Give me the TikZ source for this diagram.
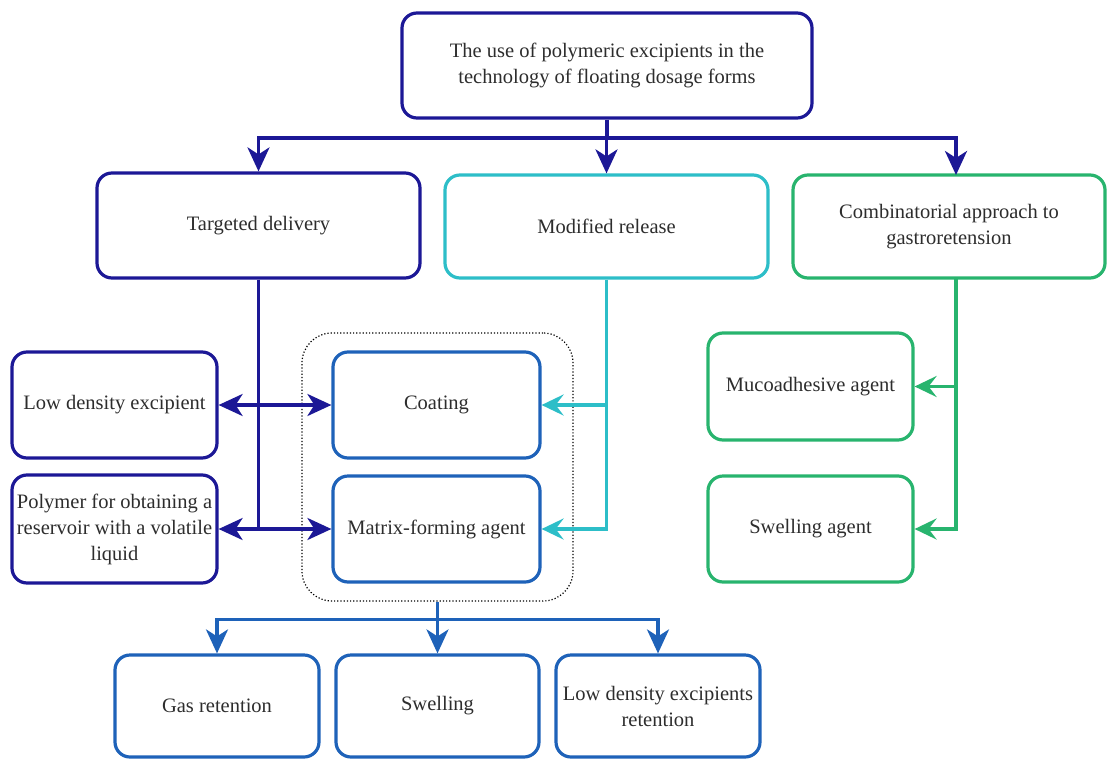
\documentclass[tikz,border=0pt]{standalone}
\usepackage{fontspec}
\setmainfont{Liberation Serif}
\usetikzlibrary{arrows.meta,calc}
\definecolor{navyb}{RGB}{28,24,150}
\definecolor{cyanb}{RGB}{45,190,200}
\definecolor{greenb}{RGB}{40,180,110}
\definecolor{midb}{RGB}{30,98,185}
\definecolor{txt}{RGB}{45,45,45}
\tikzset{
  box/.style={draw, rounded corners=15pt, line width=3.2pt, fill=white, inner sep=0pt,
    align=center, text=txt, font=\fontsize{20.5}{26}\selectfont},
  navybox/.style={box, draw=navyb},
  cyanbox/.style={box, draw=cyanb},
  greenbox/.style={box, draw=greenb},
  midbox/.style={box, draw=midb},
  arr/.style={line width=3.4pt, -{Stealth[length=24pt,width=22pt,inset=7pt]}},
  darr/.style={line width=3.4pt, {Stealth[length=24pt,width=22pt,inset=7pt]}-{Stealth[length=24pt,width=22pt,inset=7pt]}},
  carr/.style={line width=3.2pt, -{Stealth[length=22pt,width=21pt,inset=8pt]}},
  trunk/.style={line width=3.4pt},
}
\begin{document}
\begin{tikzpicture}[x=1pt,y=-1pt]
\useasboundingbox[fill=white] (0,0) rectangle (1107,760);

% dotted group
\node[draw=black, dotted, line width=1.2pt, rounded corners=30pt, minimum width=271pt, minimum height=268pt, inner sep=0pt] (grp) at (437.5,467) {};

% nodes
\node[navybox, minimum width=410pt, minimum height=105pt] (top) at (607,65.5)
  {The use of polymeric excipients in the\\technology of floating dosage forms};
\node[navybox, minimum width=323pt, minimum height=105pt] (targ) at (258.5,225.5) {Targeted delivery};
\node[cyanbox, minimum width=323pt, minimum height=103pt] (mod) at (606.5,226.5) {Modified release};
\node[greenbox, minimum width=312pt, minimum height=103pt] (comb) at (949,226.5)
  {Combinatorial approach to\\gastroretension};

\node[navybox, minimum width=205pt, minimum height=106pt] (low) at (114.5,405) {Low density excipient};
\node[navybox, minimum width=205pt, minimum height=108pt] (poly) at (114.5,529)
  {Polymer for obtaining a\\reservoir with a volatile\\liquid};

\node[midbox, minimum width=207pt, minimum height=106pt] (coat) at (436.5,405) {Coating};
\node[midbox, minimum width=207pt, minimum height=106pt] (matr) at (436.5,529) {Matrix-forming agent};

\node[greenbox, minimum width=205pt, minimum height=107pt] (muco) at (810.5,386.5) {Mucoadhesive agent};
\node[greenbox, minimum width=205pt, minimum height=106pt] (swag) at (810.5,529) {Swelling agent};

\node[midbox, minimum width=204pt, minimum height=102pt] (gas) at (217,706) {Gas retention};
\node[midbox, minimum width=203pt, minimum height=102pt] (swel) at (437.5,706) {Swelling};
\node[midbox, minimum width=204pt, minimum height=102pt] (ldr) at (658,706) {Low density excipients\\retention};

% top distribution
\coordinate (tsplit) at (607,138);
\coordinate (cx) at (956,175);
\draw[navyb, trunk] (top.south) -- (tsplit);
\draw[navyb, arr] (tsplit) -| (targ.north);
\draw[navyb, arr] (tsplit) -- (mod.north |- tsplit) -- (mod.north);
\draw[navyb, arr] (tsplit) -| (cx);

% blue trunk
\draw[navyb, trunk] (targ.south) -- (targ.south |- poly.east);
\draw[navyb, darr] (low.east) -- (coat.west);
\draw[navyb, darr] (poly.east) -- (matr.west);

% cyan trunk
\draw[cyanb, carr] (mod.south) |- (matr.east);
\draw[cyanb, carr] (mod.south |- coat.east) -- (coat.east);

% green trunk
\coordinate (gtop) at (956,278);
\draw[greenb, carr] (gtop) |- (swag.east);
\draw[greenb, carr] (gtop |- muco.east) -- (muco.east);

% bottom distribution
\coordinate (bsplit) at ($(grp.south)+(0,18)$);
\draw[midb, trunk] (grp.south) -- (bsplit);
\draw[midb, arr] (bsplit) -| (gas.north);
\draw[midb, arr] (bsplit) -- (swel.north);
\draw[midb, arr] (bsplit) -| (ldr.north);
\end{tikzpicture}
\end{document}
